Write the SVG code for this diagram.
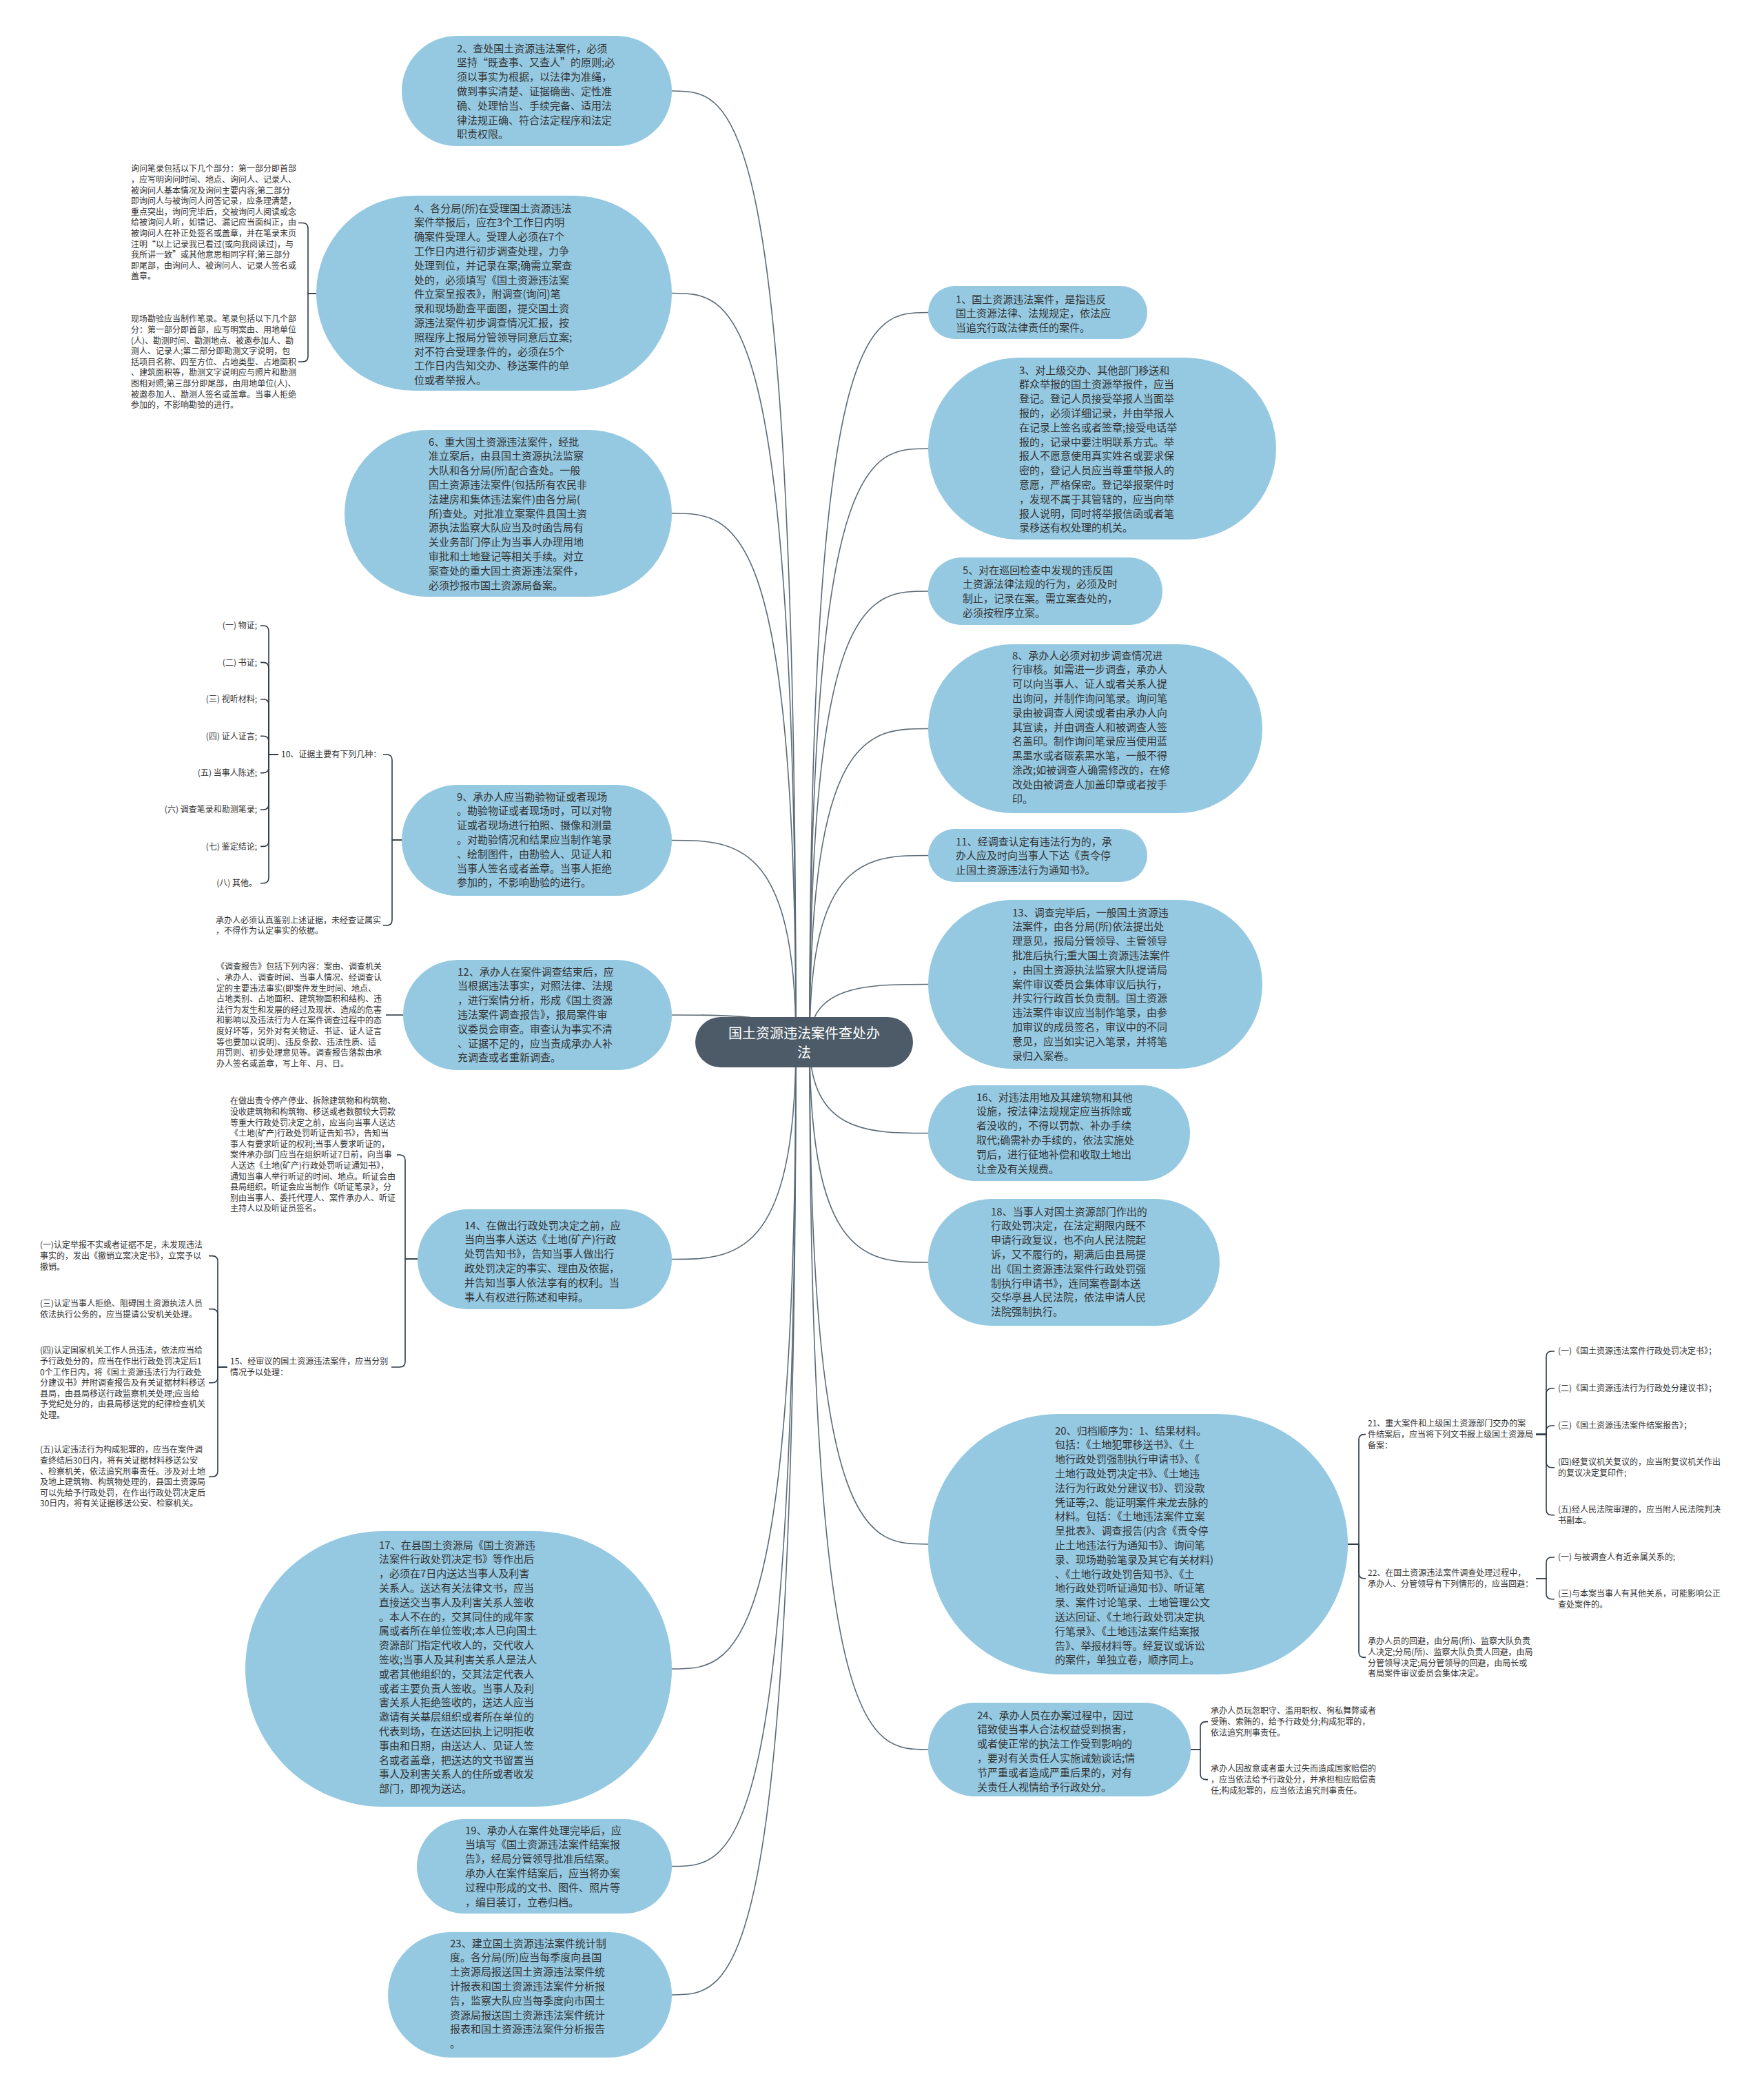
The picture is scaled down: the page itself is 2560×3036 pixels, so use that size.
<svg xmlns="http://www.w3.org/2000/svg" width="2560" height="3036" viewBox="0 0 2560 3036">
<style>
.bg{fill:#ffffff}
.node rect{fill:#95c9e2}
.root rect{fill:#4d5b69}
.nt{font-family:"Noto Sans CJK SC","Microsoft YaHei",sans-serif;font-size:15px;fill:#333333}
.rt{font-family:"Noto Sans CJK SC","Microsoft YaHei",sans-serif;font-size:20px;fill:#ffffff;text-anchor:middle}
.st{font-family:"Noto Sans CJK SC","Microsoft YaHei",sans-serif;font-size:12px;fill:#333333}
.conn path{fill:none;stroke:#5d6b76;stroke-width:1.6}
.brace path{fill:none;stroke:#2f3b46;stroke-width:1.6}
</style>
<rect class="bg" x="0" y="0" width="2560" height="3036"/>

<g id="connectors" class="conn">
<path d="M1175 1512 C1175 453.5 1261 453.5 1347 453.5"/>
<path d="M1175 1512 C1175 651 1261 651 1347 651"/>
<path d="M1175 1512 C1175 858 1261 858 1347 858"/>
<path d="M1175 1512 C1175 1057.5 1261 1057.5 1347 1057.5"/>
<path d="M1175 1512 C1175 1241.5 1261 1241.5 1347 1241.5"/>
<path d="M1175 1512 C1175 1428.5 1261 1428.5 1347 1428.5"/>
<path d="M1175 1512 C1175 1644.5 1261 1644.5 1347 1644.5"/>
<path d="M1175 1512 C1175 1832 1261 1832 1347 1832"/>
<path d="M1175 1512 C1175 2241 1261 2241 1347 2241"/>
<path d="M1175 1512 C1175 2539 1261 2539 1347 2539"/>
<path d="M1155 1512 C1155 132 1065 132 975 132"/>
<path d="M1155 1512 C1155 425.5 1065 425.5 975 425.5"/>
<path d="M1155 1512 C1155 745 1065 745 975 745"/>
<path d="M1155 1512 C1155 1219.5 1065 1219.5 975 1219.5"/>
<path d="M1155 1512 C1155 1473 1065 1473 975 1473"/>
<path d="M1155 1512 C1155 1827.5 1065 1827.5 975 1827.5"/>
<path d="M1155 1512 C1155 2422 1065 2422 975 2422"/>
<path d="M1155 1512 C1155 2708.5 1065 2708.5 975 2708.5"/>
<path d="M1155 1512 C1155 2895 1065 2895 975 2895"/>
</g>

<g id="braces" class="brace">
<path d="M459 426 H447 V331.5 Q447 323.5 439 323.5 H433"/>
<path d="M459 426 H447 V517 Q447 525 439 525 H433"/>
<path d="M583 1219 H569 V1103 Q569 1095 561 1095 H556"/>
<path d="M583 1219 H569 V1335 Q569 1343 561 1343 H556"/>
<path d="M404 1095 H390 V916 Q390 908 382 908 H378"/>
<path d="M404 1095 H390 V969.4 Q390 961.4 382 961.4 H378"/>
<path d="M404 1095 H390 V1022.8 Q390 1014.8 382 1014.8 H378"/>
<path d="M404 1095 H390 V1076.2 Q390 1068.2 382 1068.2 H378"/>
<path d="M404 1095 H390 V1113.6 Q390 1121.6 382 1121.6 H378"/>
<path d="M404 1095 H390 V1167 Q390 1175 382 1175 H378"/>
<path d="M404 1095 H390 V1220.4 Q390 1228.4 382 1228.4 H378"/>
<path d="M404 1095 H390 V1273.8 Q390 1281.8 382 1281.8 H378"/>
<path d="M585 1473 H560"/>
<path d="M606 1827 H588 V1684 Q588 1676 580 1676 H576"/>
<path d="M606 1827 H588 V1976 Q588 1984 580 1984 H568"/>
<path d="M330 1984 H316 V1830.6 Q316 1822.6 308 1822.6 H303"/>
<path d="M330 1984 H316 V1907.8 Q316 1899.8 308 1899.8 H303"/>
<path d="M330 1984 H316 V1998.8 Q316 2006.8 308 2006.8 H303"/>
<path d="M330 1984 H316 V2135 Q316 2143 308 2143 H303"/>
<path d="M1956 2241 H1972 V2089.6 Q1972 2081.6 1980 2081.6 H1982"/>
<path d="M1956 2241 H1972 V2282.8 Q1972 2290.8 1980 2290.8 H1982"/>
<path d="M1956 2241 H1972 V2397.4 Q1972 2405.4 1980 2405.4 H1982"/>
<path d="M2229 2081.6 H2244 V1969 Q2244 1961 2252 1961 H2256"/>
<path d="M2229 2081.6 H2244 V2023 Q2244 2015 2252 2015 H2256"/>
<path d="M2229 2081.6 H2244 V2077 Q2244 2069 2252 2069 H2256"/>
<path d="M2229 2081.6 H2244 V2121.8 Q2244 2129.8 2252 2129.8 H2256"/>
<path d="M2229 2081.6 H2244 V2190.8 Q2244 2198.8 2252 2198.8 H2256"/>
<path d="M2229 2290.8 H2244 V2268 Q2244 2260 2252 2260 H2256"/>
<path d="M2229 2290.8 H2244 V2312.8 Q2244 2320.8 2252 2320.8 H2256"/>
<path d="M1728 2539 H1742 V2506.6 Q1742 2498.6 1750 2498.6 H1753"/>
<path d="M1728 2539 H1742 V2574.6 Q1742 2582.6 1750 2582.6 H1753"/>
</g>

<g id="root" class="root">
<rect x="1009" y="1476" width="316" height="73" rx="36.5"/>
<text class="rt"><tspan x="1167" y="1507">国土资源违法案件查处办</tspan><tspan x="1167" y="1535">法</tspan></text>
</g>

<g id="n1" class="node"><rect x="1347" y="415" width="318" height="77" rx="38.5"/>
<text class="nt"><tspan x="1387" y="439.5">1、国土资源违法案件，是指违反</tspan><tspan x="1387" y="460.3">国土资源法律、法规规定，依法应</tspan><tspan x="1387" y="481.1">当追究行政法律责任的案件。</tspan></text></g>

<g id="n2" class="node"><rect x="583" y="52" width="392" height="160" rx="80"/>
<text class="nt"><tspan x="663" y="75.5">2、查处国土资源违法案件，必须</tspan><tspan x="663" y="96.3">坚持“既查事、又查人”的原则;必</tspan><tspan x="663" y="117.1">须以事实为根据，以法律为准绳，</tspan><tspan x="663" y="137.9">做到事实清楚、证据确凿、定性准</tspan><tspan x="663" y="158.7">确、处理恰当、手续完备、适用法</tspan><tspan x="663" y="179.5">律法规正确、符合法定程序和法定</tspan><tspan x="663" y="200.3">职责权限。</tspan></text></g>

<g id="n3" class="node"><rect x="1347" y="519" width="505" height="264" rx="132"/>
<text class="nt"><tspan x="1479" y="542.5">3、对上级交办、其他部门移送和</tspan><tspan x="1479" y="563.3">群众举报的国土资源举报件，应当</tspan><tspan x="1479" y="584.1">登记。登记人员接受举报人当面举</tspan><tspan x="1479" y="604.9">报的，必须详细记录，并由举报人</tspan><tspan x="1479" y="625.7">在记录上签名或者签章;接受电话举</tspan><tspan x="1479" y="646.5">报的，记录中要注明联系方式。举</tspan><tspan x="1479" y="667.3">报人不愿意使用真实姓名或要求保</tspan><tspan x="1479" y="688.1">密的，登记人员应当尊重举报人的</tspan><tspan x="1479" y="708.9">意愿，严格保密。登记举报案件时</tspan><tspan x="1479" y="729.7">，发现不属于其管辖的，应当向举</tspan><tspan x="1479" y="750.5">报人说明，同时将举报信函或者笔</tspan><tspan x="1479" y="771.3">录移送有权处理的机关。</tspan></text></g>

<g id="n4" class="node"><rect x="459" y="284" width="516" height="283" rx="141.5"/>
<text class="nt"><tspan x="601" y="307.5">4、各分局(所)在受理国土资源违法</tspan><tspan x="601" y="328.3">案件举报后，应在3个工作日内明</tspan><tspan x="601" y="349.1">确案件受理人。受理人必须在7个</tspan><tspan x="601" y="369.9">工作日内进行初步调查处理，力争</tspan><tspan x="601" y="390.7">处理到位，并记录在案;确需立案查</tspan><tspan x="601" y="411.5">处的，必须填写《国土资源违法案</tspan><tspan x="601" y="432.3">件立案呈报表》，附调查(询问)笔</tspan><tspan x="601" y="453.1">录和现场勘查平面图，提交国土资</tspan><tspan x="601" y="473.9">源违法案件初步调查情况汇报，按</tspan><tspan x="601" y="494.7">照程序上报局分管领导同意后立案;</tspan><tspan x="601" y="515.5">对不符合受理条件的，必须在5个</tspan><tspan x="601" y="536.3">工作日内告知交办、移送案件的单</tspan><tspan x="601" y="557.1">位或者举报人。</tspan></text></g>

<g id="n4-notes">
<text class="st"><tspan x="190" y="249.4">询问笔录包括以下几个部分：第一部分即首部</tspan><tspan x="190" y="265">，应写明询问时间、地点、询问人、记录人、</tspan><tspan x="190" y="280.6">被询问人基本情况及询问主要内容;第二部分</tspan><tspan x="190" y="296.2">即询问人与被询问人问答记录，应条理清楚，</tspan><tspan x="190" y="311.8">重点突出，询问完毕后，交被询问人阅读或念</tspan><tspan x="190" y="327.4">给被询问人听，如错记、漏记应当面纠正，由</tspan><tspan x="190" y="343">被询问人在补正处签名或盖章，并在笔录末页</tspan><tspan x="190" y="358.6">注明“以上记录我已看过(或向我阅读过)，与</tspan><tspan x="190" y="374.2">我所讲一致”或其他意思相同字样;第三部分</tspan><tspan x="190" y="389.8">即尾部，由询问人、被询问人、记录人签名或</tspan><tspan x="190" y="405.4">盖章。</tspan></text>
<text class="st"><tspan x="190" y="467.4">现场勘验应当制作笔录。笔录包括以下几个部</tspan><tspan x="190" y="483">分：第一部分即首部，应写明案由、用地单位</tspan><tspan x="190" y="498.6">(人)、勘测时间、勘测地点、被邀参加人、勘</tspan><tspan x="190" y="514.2">测人、记录人;第二部分即勘测文字说明，包</tspan><tspan x="190" y="529.8">括项目名称、四至方位、占地类型、占地面积</tspan><tspan x="190" y="545.4">、建筑面积等，勘测文字说明应与照片和勘测</tspan><tspan x="190" y="561">图相对照;第三部分即尾部，由用地单位(人)、</tspan><tspan x="190" y="576.6">被邀参加人、勘测人签名或盖章。当事人拒绝</tspan><tspan x="190" y="592.2">参加的，不影响勘验的进行。</tspan></text>
</g>

<g id="n5" class="node"><rect x="1347" y="809" width="340" height="98" rx="49"/>
<text class="nt"><tspan x="1397" y="832.5">5、对在巡回检查中发现的违反国</tspan><tspan x="1397" y="853.3">土资源法律法规的行为，必须及时</tspan><tspan x="1397" y="874.1">制止，记录在案。需立案查处的，</tspan><tspan x="1397" y="894.9">必须按程序立案。</tspan></text></g>

<g id="n6" class="node"><rect x="500" y="624" width="475" height="242" rx="121"/>
<text class="nt"><tspan x="622" y="646.5">6、重大国土资源违法案件，经批</tspan><tspan x="622" y="667.3">准立案后，由县国土资源执法监察</tspan><tspan x="622" y="688.1">大队和各分局(所)配合查处。一般</tspan><tspan x="622" y="708.9">国土资源违法案件(包括所有农民非</tspan><tspan x="622" y="729.7">法建房和集体违法案件)由各分局(</tspan><tspan x="622" y="750.5">所)查处。对批准立案案件县国土资</tspan><tspan x="622" y="771.3">源执法监察大队应当及时函告局有</tspan><tspan x="622" y="792.1">关业务部门停止为当事人办理用地</tspan><tspan x="622" y="812.9">审批和土地登记等相关手续。对立</tspan><tspan x="622" y="833.7">案查处的重大国土资源违法案件，</tspan><tspan x="622" y="854.5">必须抄报市国土资源局备案。</tspan></text></g>

<g id="n8" class="node"><rect x="1347" y="935" width="485" height="245" rx="122.5"/>
<text class="nt"><tspan x="1469" y="956.5">8、承办人必须对初步调查情况进</tspan><tspan x="1469" y="977.3">行审核。如需进一步调查，承办人</tspan><tspan x="1469" y="998.1">可以向当事人、证人或者关系人提</tspan><tspan x="1469" y="1018.9">出询问，并制作询问笔录。询问笔</tspan><tspan x="1469" y="1039.7">录由被调查人阅读或者由承办人向</tspan><tspan x="1469" y="1060.5">其宣读，并由调查人和被调查人签</tspan><tspan x="1469" y="1081.3">名盖印。制作询问笔录应当使用蓝</tspan><tspan x="1469" y="1102.1">黑墨水或者碳素黑水笔，一般不得</tspan><tspan x="1469" y="1122.9">涂改;如被调查人确需修改的，在修</tspan><tspan x="1469" y="1143.7">改处由被调查人加盖印章或者按手</tspan><tspan x="1469" y="1164.5">印。</tspan></text></g>

<g id="n9" class="node"><rect x="583" y="1139" width="392" height="161" rx="80.5"/>
<text class="nt"><tspan x="663" y="1161.5">9、承办人应当勘验物证或者现场</tspan><tspan x="663" y="1182.3">。勘验物证或者现场时，可以对物</tspan><tspan x="663" y="1203.1">证或者现场进行拍照、摄像和测量</tspan><tspan x="663" y="1223.9">。对勘验情况和结果应当制作笔录</tspan><tspan x="663" y="1244.7">、绘制图件，由勘验人、见证人和</tspan><tspan x="663" y="1265.5">当事人签名或者盖章。当事人拒绝</tspan><tspan x="663" y="1286.3">参加的，不影响勘验的进行。</tspan></text></g>

<g id="n10">
<text class="st"><tspan x="408" y="1099.4">10、证据主要有下列几种：</tspan></text>
<text class="st" text-anchor="end"><tspan x="373" y="912.4">(一) 物证;</tspan><tspan x="373" y="965.8">(二) 书证;</tspan><tspan x="373" y="1019.2">(三) 视听材料;</tspan><tspan x="373" y="1072.6">(四) 证人证言;</tspan><tspan x="373" y="1126">(五) 当事人陈述;</tspan><tspan x="373" y="1179.4">(六) 调查笔录和勘测笔录;</tspan><tspan x="373" y="1232.8">(七) 鉴定结论;</tspan><tspan x="373" y="1286.2">(八) 其他。</tspan></text>
</g>
<g id="n9-note">
<text class="st"><tspan x="313" y="1339.6">承办人必须认真鉴别上述证据，未经查证属实</tspan><tspan x="313" y="1355.2">，不得作为认定事实的依据。</tspan></text>
</g>

<g id="n11" class="node"><rect x="1347" y="1203" width="318" height="77" rx="38.5"/>
<text class="nt"><tspan x="1387" y="1226.5">11、经调查认定有违法行为的，承</tspan><tspan x="1387" y="1247.3">办人应及时向当事人下达《责令停</tspan><tspan x="1387" y="1268.1">止国土资源违法行为通知书》。</tspan></text></g>

<g id="n12" class="node"><rect x="585" y="1393" width="390" height="160" rx="80"/>
<text class="nt"><tspan x="664" y="1415.5">12、承办人在案件调查结束后，应</tspan><tspan x="664" y="1436.3">当根据违法事实，对照法律、法规</tspan><tspan x="664" y="1457.1">，进行案情分析，形成《国土资源</tspan><tspan x="664" y="1477.9">违法案件调查报告》，报局案件审</tspan><tspan x="664" y="1498.7">议委员会审查。审查认为事实不清</tspan><tspan x="664" y="1519.5">、证据不足的，应当责成承办人补</tspan><tspan x="664" y="1540.3">充调查或者重新调查。</tspan></text></g>
<g id="n12-note">
<text class="st"><tspan x="314" y="1407.4">《调查报告》包括下列内容：案由、调查机关</tspan><tspan x="314" y="1423">、承办人、调查时间、当事人情况、经调查认</tspan><tspan x="314" y="1438.6">定的主要违法事实(即案件发生时间、地点、</tspan><tspan x="314" y="1454.2">占地类别、占地面积、建筑物面积和结构、违</tspan><tspan x="314" y="1469.8">法行为发生和发展的经过及现状、造成的危害</tspan><tspan x="314" y="1485.4">和影响以及违法行为人在案件调查过程中的态</tspan><tspan x="314" y="1501">度好坏等，另外对有关物证、书证、证人证言</tspan><tspan x="314" y="1516.6">等也要加以说明)、违反条款、违法性质、适</tspan><tspan x="314" y="1532.2">用罚则、初步处理意见等。调查报告落款由承</tspan><tspan x="314" y="1547.8">办人签名或盖章，写上年、月、日。</tspan></text>
</g>

<g id="n13" class="node"><rect x="1347" y="1306" width="485" height="245" rx="122.5"/>
<text class="nt"><tspan x="1469" y="1329.5">13、调查完毕后，一般国土资源违</tspan><tspan x="1469" y="1350.3">法案件，由各分局(所)依法提出处</tspan><tspan x="1469" y="1371.1">理意见，报局分管领导、主管领导</tspan><tspan x="1469" y="1391.9">批准后执行;重大国土资源违法案件</tspan><tspan x="1469" y="1412.7">，由国土资源执法监察大队提请局</tspan><tspan x="1469" y="1433.5">案件审议委员会集体审议后执行，</tspan><tspan x="1469" y="1454.3">并实行行政首长负责制。国土资源</tspan><tspan x="1469" y="1475.1">违法案件审议应当制作笔录，由参</tspan><tspan x="1469" y="1495.9">加审议的成员签名，审议中的不同</tspan><tspan x="1469" y="1516.7">意见，应当如实记入笔录，并将笔</tspan><tspan x="1469" y="1537.5">录归入案卷。</tspan></text></g>

<g id="n14" class="node"><rect x="606" y="1755" width="369" height="145" rx="72.5"/>
<text class="nt"><tspan x="674" y="1783.5">14、在做出行政处罚决定之前，应</tspan><tspan x="674" y="1804.3">当向当事人送达《土地(矿产)行政</tspan><tspan x="674" y="1825.1">处罚告知书》，告知当事人做出行</tspan><tspan x="674" y="1845.9">政处罚决定的事实、理由及依据，</tspan><tspan x="674" y="1866.7">并告知当事人依法享有的权利。当</tspan><tspan x="674" y="1887.5">事人有权进行陈述和申辩。</tspan></text></g>
<g id="n14-note">
<text class="st"><tspan x="334" y="1602.4">在做出责令停产停业、拆除建筑物和构筑物、</tspan><tspan x="334" y="1618">没收建筑物和构筑物、移送或者数额较大罚款</tspan><tspan x="334" y="1633.6">等重大行政处罚决定之前，应当向当事人送达</tspan><tspan x="334" y="1649.2">《土地(矿产)行政处罚听证告知书》，告知当</tspan><tspan x="334" y="1664.8">事人有要求听证的权利;当事人要求听证的，</tspan><tspan x="334" y="1680.4">案件承办部门应当在组织听证7日前，向当事</tspan><tspan x="334" y="1696">人送达《土地(矿产)行政处罚听证通知书》，</tspan><tspan x="334" y="1711.6">通知当事人举行听证的时间、地点。听证会由</tspan><tspan x="334" y="1727.2">县局组织。听证会应当制作《听证笔录》，分</tspan><tspan x="334" y="1742.8">别由当事人、委托代理人、案件承办人、听证</tspan><tspan x="334" y="1758.4">主持人以及听证员签名。</tspan></text>
</g>

<g id="n15">
<text class="st"><tspan x="334" y="1980.4">15、经审议的国土资源违法案件，应当分别</tspan><tspan x="334" y="1996">情况予以处理：</tspan></text>
<text class="st"><tspan x="58" y="1811.4">(一)认定举报不实或者证据不足，未发现违法</tspan><tspan x="58" y="1827">事实的，发出《撤销立案决定书》，立案予以</tspan><tspan x="58" y="1842.6">撤销。</tspan></text>
<text class="st"><tspan x="58" y="1896.4">(三)认定当事人拒绝、阻碍国土资源执法人员</tspan><tspan x="58" y="1912">依法执行公务的，应当提请公安机关处理。</tspan></text>
<text class="st"><tspan x="58" y="1964.4">(四)认定国家机关工作人员违法，依法应当给</tspan><tspan x="58" y="1980">予行政处分的，应当在作出行政处罚决定后1</tspan><tspan x="58" y="1995.6">0个工作日内，将《国土资源违法行为行政处</tspan><tspan x="58" y="2011.2">分建议书》并附调查报告及有关证据材料移送</tspan><tspan x="58" y="2026.8">县局，由县局移送行政监察机关处理;应当给</tspan><tspan x="58" y="2042.4">予党纪处分的，由县局移送党的纪律检查机关</tspan><tspan x="58" y="2058">处理。</tspan></text>
<text class="st"><tspan x="58" y="2108.4">(五)认定违法行为构成犯罪的，应当在案件调</tspan><tspan x="58" y="2124">查终结后30日内，将有关证据材料移送公安</tspan><tspan x="58" y="2139.6">、检察机关，依法追究刑事责任。涉及对土地</tspan><tspan x="58" y="2155.2">及地上建筑物、构筑物处理的，县国土资源局</tspan><tspan x="58" y="2170.8">可以先给予行政处罚，在作出行政处罚决定后</tspan><tspan x="58" y="2186.4">30日内，将有关证据移送公安、检察机关。</tspan></text>
</g>

<g id="n16" class="node"><rect x="1347" y="1575" width="380" height="139" rx="69.5"/>
<text class="nt"><tspan x="1417" y="1597.5">16、对违法用地及其建筑物和其他</tspan><tspan x="1417" y="1618.3">设施，按法律法规规定应当拆除或</tspan><tspan x="1417" y="1639.1">者没收的，不得以罚款、补办手续</tspan><tspan x="1417" y="1659.9">取代;确需补办手续的，依法实施处</tspan><tspan x="1417" y="1680.7">罚后，进行征地补偿和收取土地出</tspan><tspan x="1417" y="1701.5">让金及有关规费。</tspan></text></g>

<g id="n17" class="node"><rect x="356" y="2222" width="619" height="400" rx="200"/>
<text class="nt"><tspan x="550" y="2247.5">17、在县国土资源局《国土资源违</tspan><tspan x="550" y="2268.3">法案件行政处罚决定书》等作出后</tspan><tspan x="550" y="2289.1">，必须在7日内送达当事人及利害</tspan><tspan x="550" y="2309.9">关系人。送达有关法律文书，应当</tspan><tspan x="550" y="2330.7">直接送交当事人及利害关系人签收</tspan><tspan x="550" y="2351.5">。本人不在的，交其同住的成年家</tspan><tspan x="550" y="2372.3">属或者所在单位签收;本人已向国土</tspan><tspan x="550" y="2393.1">资源部门指定代收人的，交代收人</tspan><tspan x="550" y="2413.9">签收;当事人及其利害关系人是法人</tspan><tspan x="550" y="2434.7">或者其他组织的，交其法定代表人</tspan><tspan x="550" y="2455.5">或者主要负责人签收。当事人及利</tspan><tspan x="550" y="2476.3">害关系人拒绝签收的，送达人应当</tspan><tspan x="550" y="2497.1">邀请有关基层组织或者所在单位的</tspan><tspan x="550" y="2517.9">代表到场，在送达回执上记明拒收</tspan><tspan x="550" y="2538.7">事由和日期，由送达人、见证人签</tspan><tspan x="550" y="2559.5">名或者盖章，把送达的文书留置当</tspan><tspan x="550" y="2580.3">事人及利害关系人的住所或者收发</tspan><tspan x="550" y="2601.1">部门，即视为送达。</tspan></text></g>

<g id="n18" class="node"><rect x="1347" y="1740" width="423" height="184" rx="92"/>
<text class="nt"><tspan x="1438" y="1763.5">18、当事人对国土资源部门作出的</tspan><tspan x="1438" y="1784.3">行政处罚决定，在法定期限内既不</tspan><tspan x="1438" y="1805.1">申请行政复议，也不向人民法院起</tspan><tspan x="1438" y="1825.9">诉，又不履行的，期满后由县局提</tspan><tspan x="1438" y="1846.7">出《国土资源违法案件行政处罚强</tspan><tspan x="1438" y="1867.5">制执行申请书》，连同案卷副本送</tspan><tspan x="1438" y="1888.3">交华亭县人民法院，依法申请人民</tspan><tspan x="1438" y="1909.1">法院强制执行。</tspan></text></g>

<g id="n19" class="node"><rect x="605" y="2640" width="370" height="137" rx="68.5"/>
<text class="nt"><tspan x="675" y="2661.5">19、承办人在案件处理完毕后，应</tspan><tspan x="675" y="2682.3">当填写《国土资源违法案件结案报</tspan><tspan x="675" y="2703.1">告》，经局分管领导批准后结案。</tspan><tspan x="675" y="2723.9">承办人在案件结案后，应当将办案</tspan><tspan x="675" y="2744.7">过程中形成的文书、图件、照片等</tspan><tspan x="675" y="2765.5">，编目装订，立卷归档。</tspan></text></g>

<g id="n20" class="node"><rect x="1347" y="2052" width="609" height="378" rx="189"/>
<text class="nt"><tspan x="1531" y="2081.5">20、归档顺序为：1、结果材料。</tspan><tspan x="1531" y="2102.3">包括：《土地犯罪移送书》、《土</tspan><tspan x="1531" y="2123.1">地行政处罚强制执行申请书》、《</tspan><tspan x="1531" y="2143.9">土地行政处罚决定书》、《土地违</tspan><tspan x="1531" y="2164.7">法行为行政处分建议书》、罚没款</tspan><tspan x="1531" y="2185.5">凭证等;2、能证明案件来龙去脉的</tspan><tspan x="1531" y="2206.3">材料。包括：《土地违法案件立案</tspan><tspan x="1531" y="2227.1">呈批表》、调查报告(内含《责令停</tspan><tspan x="1531" y="2247.9">止土地违法行为通知书》、询问笔</tspan><tspan x="1531" y="2268.7">录、现场勘验笔录及其它有关材料)</tspan><tspan x="1531" y="2289.5">、《土地行政处罚告知书》、《土</tspan><tspan x="1531" y="2310.3">地行政处罚听证通知书》、听证笔</tspan><tspan x="1531" y="2331.1">录、案件讨论笔录、土地管理公文</tspan><tspan x="1531" y="2351.9">送达回证、《土地行政处罚决定执</tspan><tspan x="1531" y="2372.7">行笔录》、《土地违法案件结案报</tspan><tspan x="1531" y="2393.5">告》、举报材料等。经复议或诉讼</tspan><tspan x="1531" y="2414.3">的案件，单独立卷，顺序同上。</tspan></text></g>

<g id="n21">
<text class="st"><tspan x="1985" y="2070.4">21、重大案件和上级国土资源部门交办的案</tspan><tspan x="1985" y="2086">件结案后，应当将下列文书报上级国土资源局</tspan><tspan x="1985" y="2101.6">备案：</tspan></text>
<text class="st"><tspan x="2261" y="1965.4">(一)《国土资源违法案件行政处罚决定书》；</tspan></text>
<text class="st"><tspan x="2261" y="2019.4">(二)《国土资源违法行为行政处分建议书》；</tspan></text>
<text class="st"><tspan x="2261" y="2073.4">(三)《国土资源违法案件结案报告》；</tspan></text>
<text class="st"><tspan x="2261" y="2126.4">(四)经复议机关复议的，应当附复议机关作出</tspan><tspan x="2261" y="2142">的复议决定复印件;</tspan></text>
<text class="st"><tspan x="2261" y="2195.4">(五)经人民法院审理的，应当附人民法院判决</tspan><tspan x="2261" y="2211">书副本。</tspan></text>
</g>

<g id="n22">
<text class="st"><tspan x="1985" y="2287.4">22、在国土资源违法案件调查处理过程中，</tspan><tspan x="1985" y="2303">承办人、分管领导有下列情形的，应当回避：</tspan></text>
<text class="st"><tspan x="2261" y="2264.4">(一) 与被调查人有近亲属关系的;</tspan></text>
<text class="st"><tspan x="2261" y="2317.4">(三)与本案当事人有其他关系，可能影响公正</tspan><tspan x="2261" y="2333">查处案件的。</tspan></text>
</g>

<g id="n20-note">
<text class="st"><tspan x="1985" y="2386.4">承办人员的回避，由分局(所)、监察大队负责</tspan><tspan x="1985" y="2402">人决定;分局(所)、监察大队负责人回避，由局</tspan><tspan x="1985" y="2417.6">分管领导决定;局分管领导的回避，由局长或</tspan><tspan x="1985" y="2433.2">者局案件审议委员会集体决定。</tspan></text>
</g>

<g id="n23" class="node"><rect x="563" y="2804" width="412" height="182" rx="91"/>
<text class="nt"><tspan x="653" y="2825.5">23、建立国土资源违法案件统计制</tspan><tspan x="653" y="2846.3">度。各分局(所)应当每季度向县国</tspan><tspan x="653" y="2867.1">土资源局报送国土资源违法案件统</tspan><tspan x="653" y="2887.9">计报表和国土资源违法案件分析报</tspan><tspan x="653" y="2908.7">告，监察大队应当每季度向市国土</tspan><tspan x="653" y="2929.5">资源局报送国土资源违法案件统计</tspan><tspan x="653" y="2950.3">报表和国土资源违法案件分析报告</tspan><tspan x="653" y="2971.1">。</tspan></text></g>

<g id="n24" class="node"><rect x="1347" y="2471" width="381" height="136" rx="68"/>
<text class="nt"><tspan x="1418" y="2494.5">24、承办人员在办案过程中，因过</tspan><tspan x="1418" y="2515.3">错致使当事人合法权益受到损害，</tspan><tspan x="1418" y="2536.1">或者使正常的执法工作受到影响的</tspan><tspan x="1418" y="2556.9">，要对有关责任人实施诫勉谈话;情</tspan><tspan x="1418" y="2577.7">节严重或者造成严重后果的，对有</tspan><tspan x="1418" y="2598.5">关责任人视情给予行政处分。</tspan></text></g>
<g id="n24-notes">
<text class="st"><tspan x="1757" y="2487.4">承办人员玩忽职守、滥用职权、徇私舞弊或者</tspan><tspan x="1757" y="2503">受贿、索贿的，给予行政处分;构成犯罪的，</tspan><tspan x="1757" y="2518.6">依法追究刑事责任。</tspan></text>
<text class="st"><tspan x="1757" y="2571.4">承办人因故意或者重大过失而造成国家赔偿的</tspan><tspan x="1757" y="2587">，应当依法给予行政处分，并承担相应赔偿责</tspan><tspan x="1757" y="2602.6">任;构成犯罪的，应当依法追究刑事责任。</tspan></text>
</g>
</svg>
